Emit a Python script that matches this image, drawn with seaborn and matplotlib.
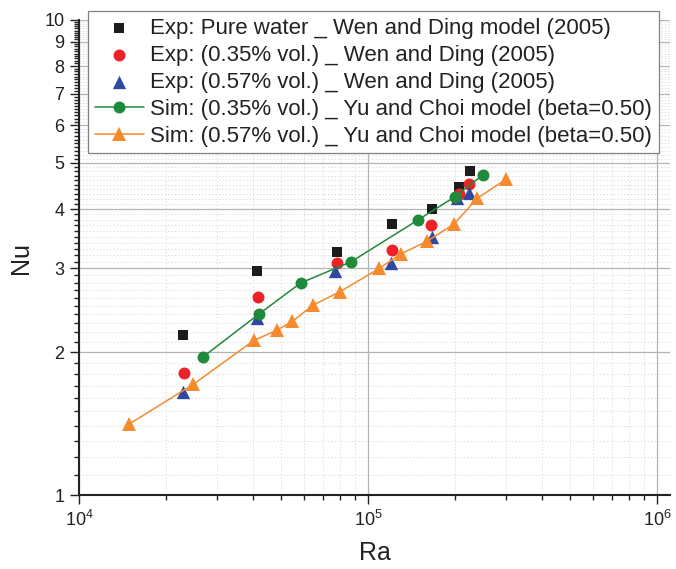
import numpy as np
import pandas as pd
import seaborn as sns
import matplotlib
matplotlib.use("Agg")
import matplotlib.pyplot as plt
from matplotlib.ticker import LogLocator, FixedLocator, FixedFormatter, NullFormatter

# ---- data ----
ra_water = [22960, 41400, 77950, 120800, 166900, 206500, 225400]
nu_water = [2.175, 2.967, 3.243, 3.724, 4.00, 4.457, 4.81]

ra_exp035 = [23090, 41630, 77950, 121400, 165200, 206500, 224100]
nu_exp035 = [1.803, 2.616, 3.074, 3.28, 3.702, 4.296, 4.51]

ra_exp057 = [22850, 41400, 77090, 120100, 166100, 203700, 224100]
nu_exp057 = [1.647, 2.359, 2.962, 3.083, 3.499, 4.226, 4.33]

ra_sim035 = [26920, 41860, 58480, 87500, 149300, 200000, 249400]
nu_sim035 = [1.955, 2.402, 2.795, 3.099, 3.797, 4.246, 4.717]

ra_sim057 = [14930, 24860, 40310, 48310, 54660, 64680, 80030, 109400, 129800,
             159700, 198500, 238900, 300200]
nu_sim057 = [1.411, 1.71, 2.116, 2.222, 2.319, 2.512, 2.679, 3.0, 3.217,
             3.418, 3.72, 4.214, 4.62]

labels = ["Exp: Pure water _ Wen and Ding model (2005)",
          "Exp: (0.35% vol.) _ Wen and Ding (2005)",
          "Exp: (0.57% vol.) _ Wen and Ding (2005)",
          "Sim: (0.35% vol.) _ Yu and Choi model (beta=0.50)",
          "Sim: (0.57% vol.) _ Yu and Choi model (beta=0.50)"]

y_ticks = [1, 2, 3, 4, 5, 6, 7, 8, 9, 10]
y_ticklabels = ["1", "2", "3", "4", "5", "6", "7", "8", "9", "10"]

c_black = "#1c1c1c"
c_red = "#ec2227"
c_blue = "#2f48a0"
c_green = "#1f8a3b"
c_orange = "#f58b2c"

sns.set_style("white")
plt.rcParams["font.family"] = ["Liberation Sans", "DejaVu Sans"]
plt.rcParams["mathtext.default"] = "regular"

fig = plt.figure(figsize=(6.76, 5.69), dpi=100)
ax = fig.add_axes([79 / 676, 1 - 495 / 569, 591 / 676, 475 / 569])

sns.scatterplot(x=ra_water, y=nu_water, marker="s", s=7.6 ** 2, color=c_black,
                linewidth=0, ax=ax, label=labels[0], zorder=3)
sns.scatterplot(x=ra_exp035, y=nu_exp035, marker="o", s=8.6 ** 2, color=c_red,
                linewidth=0, ax=ax, label=labels[1], zorder=3)
sns.scatterplot(x=ra_exp057, y=nu_exp057, marker="^", s=9.6 ** 2, color=c_blue,
                linewidth=0, ax=ax, label=labels[2], zorder=3)
sns.lineplot(x=ra_sim035, y=nu_sim035, sort=False, color=c_green, linewidth=1.1,
             marker="o", markersize=8.6, markeredgewidth=0, ax=ax,
             label=labels[3], zorder=4)
sns.lineplot(x=ra_sim057, y=nu_sim057, sort=False, color=c_orange, linewidth=1.1,
             marker="^", markersize=10.5, markeredgewidth=0, ax=ax,
             label=labels[4], zorder=4)

ax.set_xscale("log")
ax.set_yscale("log")
ax.set_xlim(1e4, 10 ** 6.045)
ax.set_ylim(1, 10)

ax.xaxis.set_major_locator(LogLocator(base=10, numticks=10))
ax.xaxis.set_minor_locator(LogLocator(base=10, subs=np.arange(2, 10), numticks=20))
ax.xaxis.set_minor_formatter(NullFormatter())

ax.yaxis.set_major_locator(FixedLocator(y_ticks))
ax.yaxis.set_major_formatter(FixedFormatter(y_ticklabels))
minor_y = [v / 10 for v in range(11, 100) if v % 10 != 0]
ax.yaxis.set_minor_locator(FixedLocator(minor_y))
ax.yaxis.set_minor_formatter(NullFormatter())

ax.tick_params(axis="both", which="major", direction="out", length=6.5, width=1.0,
               labelsize=13, color="#222222", labelcolor="#222222", pad=4,
               left=True, bottom=True)
ax.tick_params(axis="both", which="minor", direction="out", length=3.5, width=1.0,
               color="#222222", left=True, bottom=True)

ax.grid(True, which="major", color="#b4b4b4", linewidth=0.9, linestyle="-")
ax.grid(True, which="minor", color="#dedede", linewidth=0.7, linestyle=(0, (1.5, 2)))
ax.set_axisbelow(True)

for side in ["top", "right"]:
    ax.spines[side].set_visible(False)
for side in ["left", "bottom"]:
    ax.spines[side].set_linewidth(1.5)
    ax.spines[side].set_color("#222222")

ax.set_xlabel("Ra", fontsize=18, color="#222222", labelpad=8)
ax.set_ylabel("Nu", fontsize=18, color="#222222", labelpad=8)

leg = ax.legend(loc="upper right", bbox_to_anchor=(0.981, 1.019), borderaxespad=0,
                fontsize=16, frameon=True, fancybox=False, framealpha=1,
                edgecolor="#808080", handlelength=2.2, handletextpad=0.3,
                labelspacing=0.27, borderpad=0.3)
leg.get_frame().set_linewidth(0.9)
for t in leg.get_texts():
    t.set_color("#222222")

fig.savefig("out.png", dpi=100)
